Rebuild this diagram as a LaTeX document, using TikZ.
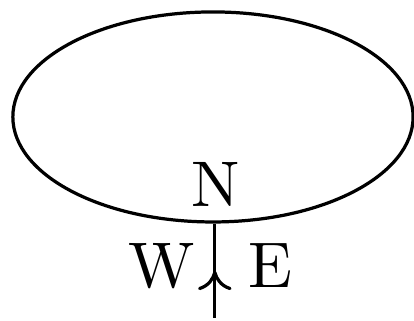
\documentclass[tikz,border=0pt]{standalone}
\usetikzlibrary{shapes.geometric,decorations.markings,arrows.meta}
\tikzset{
  midarrow/.style={postaction={decorate},
    decoration={markings,mark=at position 0.5 with {\arrow{Computer Modern Rightarrow[length=3pt,width=5.2pt]}}}}
}
\begin{document}
\begin{tikzpicture}[line width=0.5pt]
\useasboundingbox (-1.160,-1.111) rectangle (1.095,0.637);
\node[draw,ellipse,inner sep=0pt,minimum width=2.18cm,minimum height=1.144cm] (loop) at (0,0) {};
\coordinate (foot) at (0.01,-1.095);
\draw[midarrow] (foot) -- (foot |- loop.south);
\node (N) at (0.016,-0.370) {N};
\node (W) at (-0.278,-0.812) {W};
\node (E) at (0.311,-0.812) {E};
\end{tikzpicture}
\end{document}
